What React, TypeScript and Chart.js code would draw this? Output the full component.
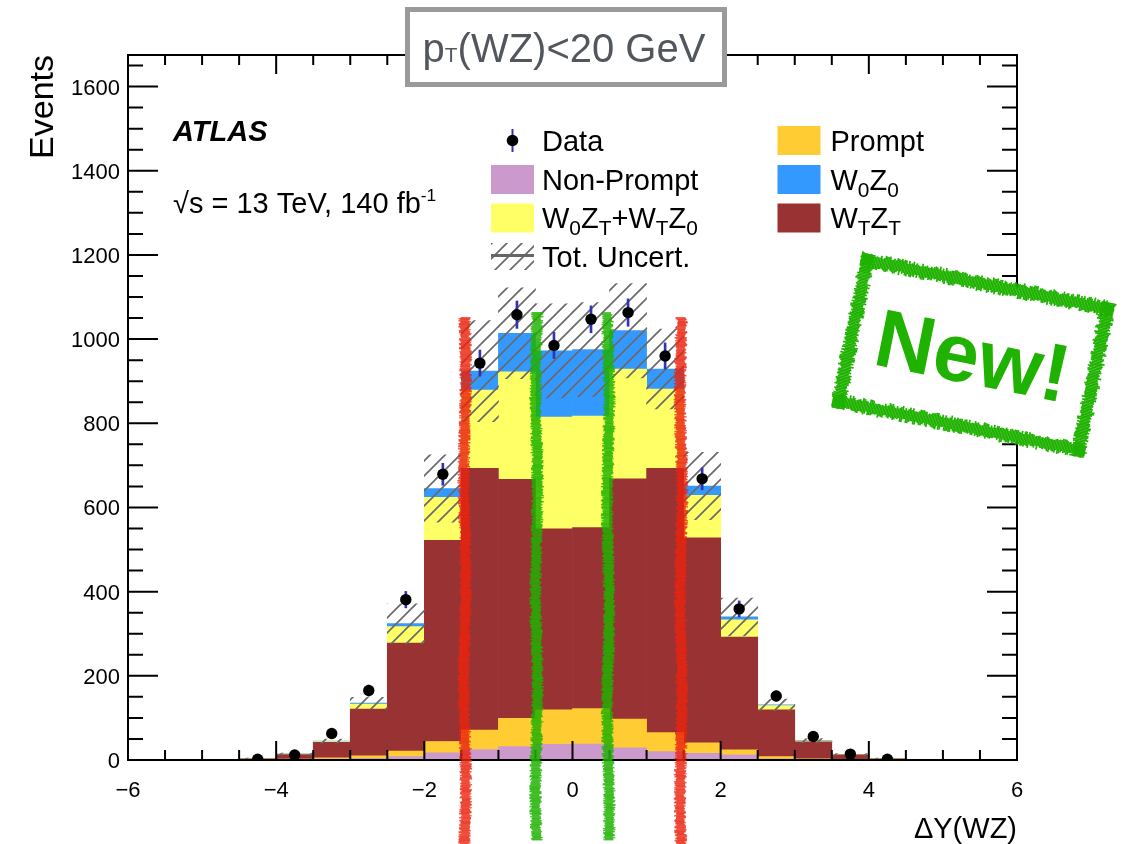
import React, { useEffect, useRef } from "react";
import { Chart, registerables } from "chart.js";

Chart.register(...registerables);

// ---------------- data ----------------
const binCenters = [-4.25, -3.75, -3.25, -2.75, -2.25, -1.75, -1.25, -0.75, -0.25, 0.25, 0.75, 1.25, 1.75, 2.25, 2.75, 3.25, 3.75, 4.25];
const nonPrompt = [0.3, 1, 2, 4, 8, 17, 25, 32, 37, 38, 29, 20, 16, 12, 3, 1, 0.5, 0.2];
const prompt = [0.5, 1, 3, 6, 13, 27, 46, 67, 82, 84, 68, 45, 25, 12, 5, 2, 0.5, 0.3];
const wtzt = [2.2, 11, 37, 111, 257, 478, 622, 568, 430, 430, 571, 628, 487, 268, 111, 40, 11, 2.5];
const w0ztWtz0 = [0.5, 1, 2, 12, 39, 102, 186, 255, 266, 265, 261, 188, 101, 41, 10, 2, 1, 0.5];
const w0z0 = [0.2, 0.5, 1, 2, 7, 21, 45, 92, 157, 158, 91, 48, 22, 7, 2, 1, 0.5, 0.2];
const dataValues = [2, 12, 63, 165, 381, 679, 943, 1058, 985, 1047, 1063, 960, 668, 359, 152, 56, 14, 2];
const dataErrors = [1.4, 3.5, 8, 13, 19.5, 26, 31, 32.5, 31, 32, 32.5, 31, 26, 19, 12, 7.5, 3.7, 1.4];
const totUncert = [1, 2, 5, 14, 47, 80, 120, 108, 112, 112, 112, 95, 80, 45, 14, 5, 2, 1];

const xRange = [-6, 6];
const yRange = [0, 1675];
const xMajorTicks = [-6, -4, -2, 0, 2, 4, 6];
const xMinorStep = 0.5;
const yMajorTicks = [0, 200, 400, 600, 800, 1000, 1200, 1400, 1600];
const yMinorStep = 50;

// annotation lines (x value, top y value)
const redLines = [-1.455, 1.465];
const redTop = 1052;
const greenLines = [-0.486, 0.482];
const greenTop = 1064;

// ---------------- styles ----------------
const FONT = "'Liberation Sans', Arial, Helvetica, sans-serif";
const C_NP = "#cc99cc";
const C_PROMPT = "#ffcc33";
const C_WTZT = "#993333";
const C_MIX = "#ffff66";
const C_W0Z0 = "#3399ff";
const C_ERR = "#3232b4";
const C_RED = "#ea2410";
const C_GREEN = "#1fb200";

type Seg = { t: string; sub?: boolean; sup?: boolean };

function drawRich(ctx: CanvasRenderingContext2D, segs: Seg[], x: number, y: number, size: number, opts: { align?: string; subScale?: number; subDy?: number; supDy?: number; weight?: string } = {}) {
  const subScale = opts.subScale ?? 0.72;
  const subDy = opts.subDy ?? size * 0.24;
  const supDy = opts.supDy ?? -size * 0.45;
  const w0 = opts.weight ?? "";
  const fontFor = (s: Seg) => `${w0} ${s.sub || s.sup ? size * subScale : size}px ${FONT}`;
  let w = 0;
  for (const s of segs) {
    ctx.font = fontFor(s);
    w += ctx.measureText(s.t).width;
  }
  let cx = opts.align === "center" ? x - w / 2 : opts.align === "right" ? x - w : x;
  ctx.textAlign = "left";
  ctx.textBaseline = "alphabetic";
  for (const s of segs) {
    ctx.font = fontFor(s);
    const dy = s.sub ? subDy : s.sup ? supDy : 0;
    ctx.fillText(s.t, cx, y + dy);
    cx += ctx.measureText(s.t).width;
  }
}

function hash(n: number) {
  const s = Math.sin(n * 12.9898 + 78.233) * 43758.5453;
  return s - Math.floor(s);
}

function chalkLine(ctx: CanvasRenderingContext2D, cx: number, y0: number, y1: number, w: number, color: string) {
  ctx.fillStyle = color;
  let k = 0;
  for (let y = y0; y < y1; y += 1, k++) {
    const a = hash(cx * 3.17 + k * 7.913) * 3;
    const b = hash(cx * 5.91 + k * 3.731 + 11.3) * 3;
    const wob = Math.sin(k * 0.031 + cx) * 1.0;
    ctx.globalAlpha = 0.85 + hash(k * 1.37 + cx) * 0.15;
    ctx.fillRect(cx - w / 2 - a + 1.5 + wob, y, w + a + b - 3, 1.2);
  }
  ctx.globalAlpha = 1;
}

function roughBand(ctx: CanvasRenderingContext2D, x: number, y: number, w: number, h: number, horizontal: boolean, seed: number) {
  let k = 0;
  if (horizontal) {
    for (let i = 0; i < w; i += 1.5, k++) {
      const a = hash(seed * 3.1 + k * 7.77) * 4;
      const b = hash(seed * 5.3 + k * 3.19) * 4;
      ctx.fillRect(x + i, y - a + 2, 1.7, h + a + b - 4);
    }
  } else {
    for (let i = 0; i < h; i += 1.5, k++) {
      const a = hash(seed * 3.1 + k * 7.77) * 4;
      const b = hash(seed * 5.3 + k * 3.19) * 4;
      ctx.fillRect(x - a + 2, y + i, w + a + b - 4, 1.7);
    }
  }
}

function makeHatch(): CanvasPattern | string {
  const c = document.createElement("canvas");
  const s = 15;
  c.width = s;
  c.height = s;
  const g = c.getContext("2d");
  if (!g) return "rgba(0,0,0,0)";
  g.strokeStyle = "#6a6a6a";
  g.lineWidth = 1.7;
  g.beginPath();
  g.moveTo(0, s);
  g.lineTo(s, 0);
  g.moveTo(-s / 2, s / 2);
  g.lineTo(s / 2, -s / 2);
  g.moveTo(s / 2, s * 1.5);
  g.lineTo(s * 1.5, s / 2);
  g.stroke();
  return g.createPattern(c, "repeat") || "rgba(0,0,0,0)";
}

const pts = (arr: number[]) => binCenters.map((c, i) => ({ x: c, y: arr[i] }));

export default function App() {
  const ref = useRef<HTMLCanvasElement | null>(null);

  useEffect(() => {
    const canvas = ref.current;
    if (!canvas) return;
    const hatch = makeHatch();
    const totals = binCenters.map((_, i) => nonPrompt[i] + prompt[i] + wtzt[i] + w0ztWtz0[i] + w0z0[i]);

    const rootPlugin = {
      id: "rootStyle",
      beforeDraw(chart: any) {
        const ctx = chart.ctx;
        ctx.save();
        ctx.fillStyle = "#ffffff";
        ctx.fillRect(0, 0, chart.width, chart.height);
        ctx.restore();
      },
      afterDraw(chart: any) {
        const ctx: CanvasRenderingContext2D = chart.ctx;
        const xs = chart.scales.x;
        const ys = chart.scales.y;
        const { left, right, top, bottom } = chart.chartArea;
        ctx.save();

        // frame + ticks
        ctx.strokeStyle = "#000";
        ctx.lineWidth = 2;
        ctx.strokeRect(left, top, right - left, bottom - top);
        ctx.beginPath();
        for (let v = xRange[0]; v <= xRange[1] + 1e-9; v += xMinorStep) {
          const px = xs.getPixelForValue(v);
          const major = xMajorTicks.some((t) => Math.abs(t - v) < 1e-9);
          const len = major ? 19 : 10;
          ctx.moveTo(px, bottom);
          ctx.lineTo(px, bottom - len);
          ctx.moveTo(px, top);
          ctx.lineTo(px, top + len);
        }
        for (let v = yRange[0]; v <= yRange[1] + 1e-9; v += yMinorStep) {
          const py = ys.getPixelForValue(v);
          const major = yMajorTicks.some((t) => Math.abs(t - v) < 1e-9);
          const len = major ? 30 : 15;
          ctx.moveTo(left, py);
          ctx.lineTo(left + len, py);
          ctx.moveTo(right, py);
          ctx.lineTo(right - len, py);
        }
        ctx.stroke();

        // tick labels
        ctx.fillStyle = "#000";
        ctx.font = `22px ${FONT}`;
        ctx.textAlign = "center";
        ctx.textBaseline = "alphabetic";
        for (const v of xMajorTicks) {
          const lab = (v < 0 ? "\u2212" : "") + Math.abs(v);
          ctx.fillText(lab, xs.getPixelForValue(v), 797);
        }
        ctx.textAlign = "right";
        for (const v of yMajorTicks) {
          ctx.fillText(String(v), left - 8, ys.getPixelForValue(v) + 8);
        }

        // axis titles
        ctx.font = `29px ${FONT}`;
        ctx.textAlign = "right";
        ctx.fillText("\u0394Y(WZ)", right, 838);
        ctx.save();
        ctx.translate(53, top);
        ctx.rotate(-Math.PI / 2);
        ctx.font = `34px ${FONT}`;
        ctx.textAlign = "right";
        ctx.fillText("Events", 0, 0);
        ctx.restore();

        // ATLAS label
        ctx.font = `italic bold 29px ${FONT}`;
        ctx.textAlign = "left";
        ctx.fillText("ATLAS", 173, 141);
        drawRich(ctx, [{ t: "\u221As = 13 TeV, 140 fb" }, { t: "-1", sup: true }], 173, 213, 29, { subScale: 0.6, supDy: -12 });

        // legend
        const sw = 43;
        const sh = 29;
        const col1 = 491;
        const col2 = 777.5;
        const rows = [140.5, 179.5, 218, 256.5];
        const textSize = 29;
        // Data
        ctx.strokeStyle = C_ERR;
        ctx.lineWidth = 2;
        ctx.beginPath();
        ctx.moveTo(col1 + sw / 2, rows[0] - 11.5);
        ctx.lineTo(col1 + sw / 2, rows[0] + 11.5);
        ctx.stroke();
        ctx.fillStyle = "#000";
        ctx.beginPath();
        ctx.arc(col1 + sw / 2, rows[0], 5.8, 0, Math.PI * 2);
        ctx.fill();
        const boxes: [number, number, any][] = [
          [col1, rows[1], C_NP],
          [col1, rows[2], C_MIX],
          [col2, rows[0], C_PROMPT],
          [col2, rows[1], C_W0Z0],
          [col2, rows[2], C_WTZT],
        ];
        for (const [bx, by, col] of boxes) {
          ctx.fillStyle = col;
          ctx.fillRect(bx, by - sh / 2, sw, sh);
        }
        // Tot. Uncert. swatch
        ctx.fillStyle = hatch as any;
        ctx.fillRect(col1, rows[3] - sh / 2 + 1, sw, sh - 2);
        ctx.strokeStyle = "#666";
        ctx.lineWidth = 3;
        ctx.beginPath();
        ctx.moveTo(col1, rows[3] - 1);
        ctx.lineTo(col1 + sw, rows[3] - 1);
        ctx.stroke();

        ctx.fillStyle = "#000";
        const tx1 = 542;
        const tx2 = 830.5;
        const bl = 10.3;
        drawRich(ctx, [{ t: "Data" }], tx1, rows[0] + bl, textSize);
        drawRich(ctx, [{ t: "Non-Prompt" }], tx1, rows[1] + bl, textSize);
        drawRich(ctx, [{ t: "W" }, { t: "0", sub: true }, { t: "Z" }, { t: "T", sub: true }, { t: "+W" }, { t: "T", sub: true }, { t: "Z" }, { t: "0", sub: true }], tx1, rows[2] + bl, textSize, { subDy: 7 });
        drawRich(ctx, [{ t: "Tot. Uncert." }], tx1, rows[3] + bl, textSize);
        drawRich(ctx, [{ t: "Prompt" }], tx2, rows[0] + bl, textSize);
        drawRich(ctx, [{ t: "W" }, { t: "0", sub: true }, { t: "Z" }, { t: "0", sub: true }], tx2, rows[1] + bl, textSize, { subDy: 7 });
        drawRich(ctx, [{ t: "W" }, { t: "T", sub: true }, { t: "Z" }, { t: "T", sub: true }], tx2, rows[2] + bl, textSize, { subDy: 7 });

        // title box
        ctx.fillStyle = "#ffffff";
        ctx.fillRect(405, 7, 322, 80);
        ctx.strokeStyle = "#9a9a9a";
        ctx.lineWidth = 5;
        ctx.strokeRect(407.5, 9.5, 317, 75);
        ctx.fillStyle = "#52575d";
        drawRich(ctx, [{ t: "p" }, { t: "T", sub: true }, { t: "(WZ)<20 GeV" }], 564, 62, 40, { align: "center", subScale: 0.52, subDy: 0 });

        // chalk lines
        for (const v of redLines) {
          chalkLine(ctx, xs.getPixelForValue(v), ys.getPixelForValue(redTop), 844, 10, C_RED);
        }
        for (const v of greenLines) {
          chalkLine(ctx, xs.getPixelForValue(v), ys.getPixelForValue(greenTop), 840, 10, C_GREEN);
        }

        // New! stamp
        ctx.save();
        ctx.translate(973, 355);
        ctx.rotate((11.4 * Math.PI) / 180);
        const W = 258;
        const H = 157;
        const T = 13;
        ctx.fillStyle = "#ffffff";
        ctx.fillRect(-W / 2 + 4, -H / 2 + 4, W - 8, H - 8);
        ctx.fillStyle = C_GREEN;
        roughBand(ctx, -W / 2, -H / 2, W, T, true, 1.1);
        roughBand(ctx, -W / 2, H / 2 - T, W, T, true, 2.3);
        roughBand(ctx, -W / 2, -H / 2, T, H, false, 3.7);
        roughBand(ctx, W / 2 - T, -H / 2, T, H, false, 4.9);
        ctx.font = `bold 82px ${FONT}`;
        ctx.textAlign = "center";
        ctx.textBaseline = "alphabetic";
        ctx.fillText("New!", 0, 29);
        ctx.restore();

        ctx.restore();
      },
    };

    const barCommon = { grouped: false, barPercentage: 1, categoryPercentage: 1, borderWidth: 0 };

    const chart = new Chart(canvas, {
      type: "bar",
      data: {
        datasets: [
          {
            type: "scatter",
            label: "Data",
            data: pts(dataValues),
            stack: "data",
            pointRadius: 5.7,
            pointHoverRadius: 5.7,
            pointBackgroundColor: "#000",
            pointBorderWidth: 0,
            backgroundColor: "#000",
          } as any,
          {
            label: "Data error",
            data: binCenters.map((c, i) => ({ x: c, y: [dataValues[i] - dataErrors[i], dataValues[i] + dataErrors[i]] })),
            backgroundColor: C_ERR,
            barThickness: 2,
            stack: "err",
            ...barCommon,
          } as any,
          {
            label: "Tot. Uncert.",
            data: binCenters.map((c, i) => ({ x: c, y: [totals[i] - totUncert[i], totals[i] + totUncert[i]] })),
            backgroundColor: hatch,
            stack: "unc",
            ...barCommon,
          } as any,
          { label: "Non-Prompt", data: pts(nonPrompt), backgroundColor: C_NP, stack: "mc", ...barCommon } as any,
          { label: "Prompt", data: pts(prompt), backgroundColor: C_PROMPT, stack: "mc", ...barCommon } as any,
          { label: "WTZT", data: pts(wtzt), backgroundColor: C_WTZT, stack: "mc", ...barCommon } as any,
          { label: "W0ZT+WTZ0", data: pts(w0ztWtz0), backgroundColor: C_MIX, stack: "mc", ...barCommon } as any,
          { label: "W0Z0", data: pts(w0z0), backgroundColor: C_W0Z0, stack: "mc", ...barCommon } as any,
        ],
      },
      options: {
        responsive: false,
        animation: false,
        events: [],
        layout: { padding: { left: 128, right: 109, top: 55, bottom: 84 } },
        plugins: { legend: { display: false }, tooltip: { enabled: false } },
        scales: {
          x: { type: "linear", min: xRange[0], max: xRange[1], display: false, offset: false, ticks: { stepSize: 2 }, grid: { display: false } },
          y: { type: "linear", min: yRange[0], max: yRange[1], display: false, stacked: true, grid: { display: false } },
        },
      } as any,
      plugins: [rootPlugin as any],
    });
    return () => chart.destroy();
  }, []);

  return (
    <div style={{ position: "fixed", left: 0, top: 0, width: 1126, height: 844, background: "#fff" }}>
      <canvas ref={ref} width={1126} height={844} style={{ width: 1126, height: 844, display: "block" }} />
    </div>
  );
}
